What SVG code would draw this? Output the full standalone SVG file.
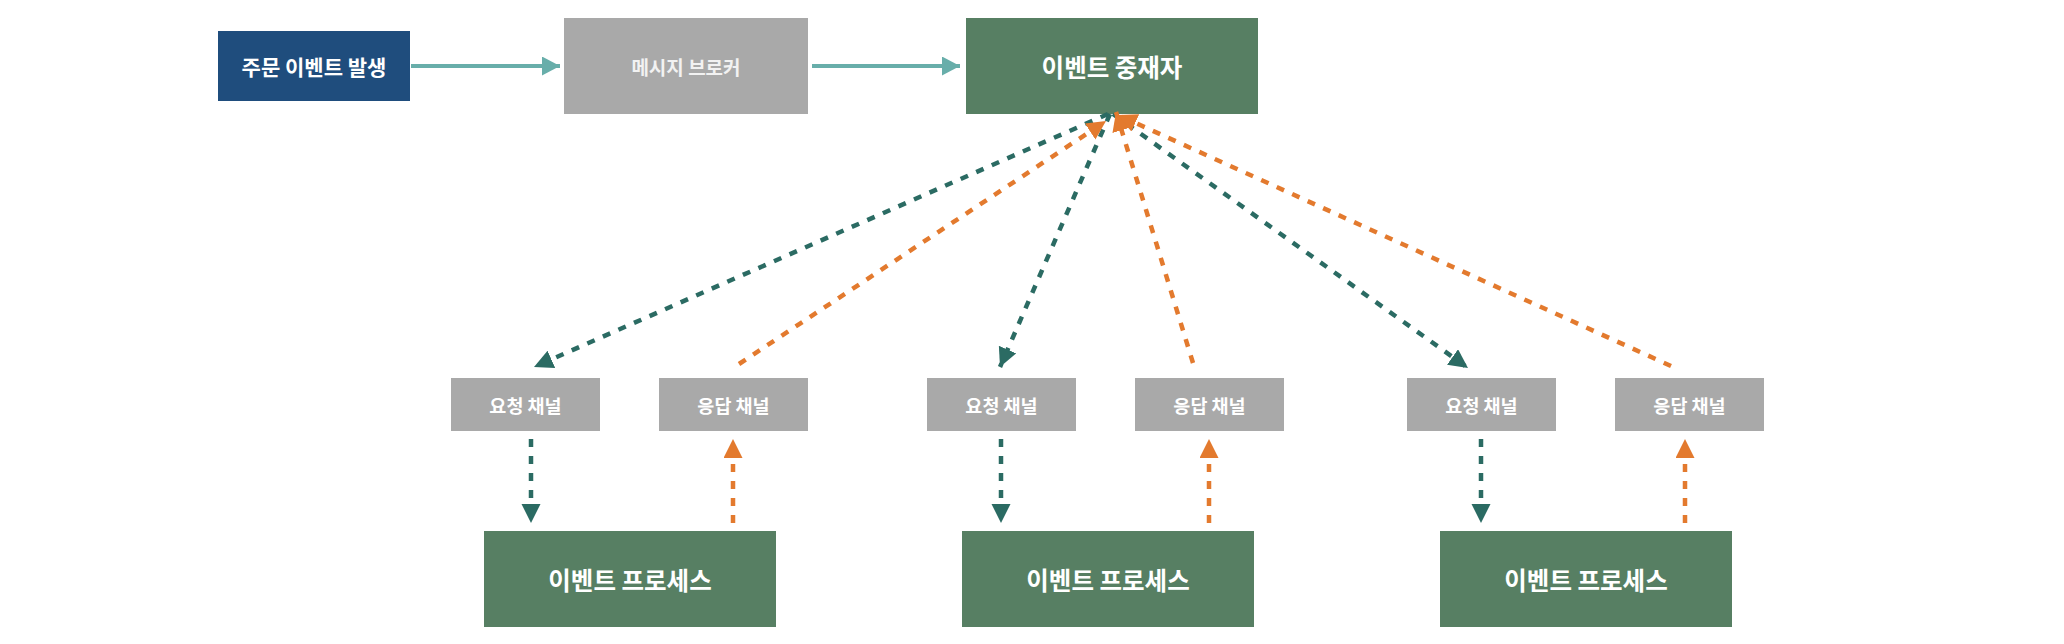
<svg xmlns="http://www.w3.org/2000/svg" width="2064" height="644" viewBox="0 0 2064 644">
<style>
  .lbl{font-family:"Noto Sans CJK KR","Noto Sans",sans-serif;font-weight:700;fill:#ffffff;text-anchor:middle;dominant-baseline:central}
  .blue{fill:#1f4d7d}
  .gray{fill:#a9a9a9}
  .green{fill:#577f63}
  .solid{stroke:#68aeaa;stroke-width:4;fill:none}
  .req{stroke:#2b6b63;stroke-width:4.5;fill:none;stroke-dasharray:8 9}
  .resp{stroke:#e37a2e;stroke-width:4.5;fill:none;stroke-dasharray:8 9}
</style>
<defs>
  <marker id="mSolid" markerUnits="userSpaceOnUse" markerWidth="20" markerHeight="20" refX="18" refY="9.5" orient="auto">
    <path d="M0,0 L18,9.5 L0,19 z" fill="#68aeaa"/>
  </marker>
  <marker id="mReq" markerUnits="userSpaceOnUse" markerWidth="20" markerHeight="20" refX="19" refY="9.5" orient="auto">
    <path d="M0,0 L19,9.5 L0,19 z" fill="#2b6b63"/>
  </marker>
  <marker id="mResp" markerUnits="userSpaceOnUse" markerWidth="20" markerHeight="20" refX="19" refY="9.5" orient="auto">
    <path d="M0,0 L19,9.5 L0,19 z" fill="#e37a2e"/>
  </marker>
</defs>
<rect width="2064" height="644" fill="#ffffff"/>

<g id="order-event">
  <rect class="blue" x="218" y="31" width="192" height="70"/>
  <text class="lbl" x="314" y="66" font-size="21">주문 이벤트 발생</text>
</g>
<g id="message-broker">
  <rect class="gray" x="564" y="18" width="244" height="96"/>
  <text class="lbl" x="686" y="66" font-size="19" style="fill:#f2f2f2">메시지 브로커</text>
</g>
<g id="event-mediator">
  <rect class="green" x="966" y="18" width="292" height="96"/>
  <text class="lbl" x="1112" y="66" font-size="24.5">이벤트 중재자</text>
</g>

<g id="req-channel-1">
  <rect class="gray" x="451" y="378" width="149" height="53"/>
  <text class="lbl" x="525.5" y="404.5" font-size="18.5">요청 채널</text>
</g>
<g id="resp-channel-1">
  <rect class="gray" x="659" y="378" width="149" height="53"/>
  <text class="lbl" x="733.5" y="404.5" font-size="18.5">응답 채널</text>
</g>
<g id="req-channel-2">
  <rect class="gray" x="927" y="378" width="149" height="53"/>
  <text class="lbl" x="1001.5" y="404.5" font-size="18.5">요청 채널</text>
</g>
<g id="resp-channel-2">
  <rect class="gray" x="1135" y="378" width="149" height="53"/>
  <text class="lbl" x="1209.5" y="404.5" font-size="18.5">응답 채널</text>
</g>
<g id="req-channel-3">
  <rect class="gray" x="1407" y="378" width="149" height="53"/>
  <text class="lbl" x="1481.5" y="404.5" font-size="18.5">요청 채널</text>
</g>
<g id="resp-channel-3">
  <rect class="gray" x="1615" y="378" width="149" height="53"/>
  <text class="lbl" x="1689.5" y="404.5" font-size="18.5">응답 채널</text>
</g>

<g id="event-process-1">
  <rect class="green" x="484" y="531" width="292" height="96"/>
  <text class="lbl" x="630" y="579" font-size="24.5">이벤트 프로세스</text>
</g>
<g id="event-process-2">
  <rect class="green" x="962" y="531" width="292" height="96"/>
  <text class="lbl" x="1108" y="579" font-size="24.5">이벤트 프로세스</text>
</g>
<g id="event-process-3">
  <rect class="green" x="1440" y="531" width="292" height="96"/>
  <text class="lbl" x="1586" y="579" font-size="24.5">이벤트 프로세스</text>
</g>

<g id="connectors">
  <line class="solid" x1="411" y1="66" x2="560" y2="66" marker-end="url(#mSolid)"/>
  <line class="solid" x1="812" y1="66" x2="960" y2="66" marker-end="url(#mSolid)"/>

  <line class="req" x1="1108" y1="114" x2="534" y2="367" marker-end="url(#mReq)"/>
  <line class="req" x1="1110" y1="114" x2="1000" y2="367" marker-end="url(#mReq)"/>
  <line class="req" x1="1113" y1="114" x2="1468" y2="368" marker-end="url(#mReq)"/>

  <line class="resp" x1="739" y1="364" x2="1106" y2="121" marker-end="url(#mResp)"/>
  <line class="resp" x1="1193" y1="363" x2="1116" y2="112" marker-end="url(#mResp)"/>
  <line class="resp" x1="1671" y1="366" x2="1118" y2="115" marker-end="url(#mResp)"/>

  <line class="req" x1="531" y1="439" x2="531" y2="523" marker-end="url(#mReq)"/>
  <line class="req" x1="1001" y1="439" x2="1001" y2="523" marker-end="url(#mReq)"/>
  <line class="req" x1="1481" y1="439" x2="1481" y2="523" marker-end="url(#mReq)"/>

  <line class="resp" x1="733" y1="523" x2="733" y2="439" marker-end="url(#mResp)"/>
  <line class="resp" x1="1209" y1="523" x2="1209" y2="439" marker-end="url(#mResp)"/>
  <line class="resp" x1="1685" y1="523" x2="1685" y2="439" marker-end="url(#mResp)"/>
</g>
</svg>
